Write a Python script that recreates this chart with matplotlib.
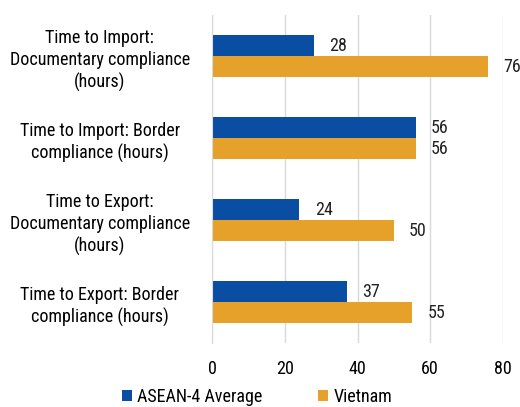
import numpy as np
import matplotlib
matplotlib.use("Agg")
from matplotlib import pyplot as plt

plt.rcParams['font.family'] = ['Roboto Condensed', 'DejaVu Sans']

# data
categories = ["Time to Import:\nDocumentary compliance\n(hours)",
              "Time to Import: Border\ncompliance (hours)",
              "Time to Export:\nDocumentary compliance\n(hours)",
              "Time to Export: Border\ncompliance (hours)"]
asean = [28, 56, 24, 37]
vietnam = [76, 56, 50, 55]
series_names = ["ASEAN-4 Average", "Vietnam"]
blue = "#0a4ea3"
orange = "#e5a12a"

fig = plt.figure(figsize=(5.2, 4.07), dpi=100)
ax = fig.add_axes([0.408, 0.157, 0.559, 0.806])

y = np.arange(len(categories))
h = 0.255
b1 = ax.barh(y - h / 2, asean, height=h, color=blue, label=series_names[0])
b2 = ax.barh(y + h / 2, vietnam, height=h, color=orange, label=series_names[1])

# value labels to the right of each bar
for bars in (b1, b2):
    for b in bars:
        ax.annotate(str(int(b.get_width())), (b.get_width(), b.get_y() + b.get_height() / 2),
                    xytext=(11, 0), textcoords="offset points", ha="left", va="center",
                    fontsize=13, color="#222222")

ax.set_xlim(0, 80)
ax.set_ylim(3.5, -0.5)
ax.set_xticks([0, 20, 40, 60, 80])
ax.set_yticks(y)
ax.set_yticklabels(categories, fontsize=13, ha="center", linespacing=1.3)
ax.tick_params(axis="y", length=0, pad=81)
ax.tick_params(axis="x", length=0, labelsize=13, pad=12)
ax.grid(axis="x", color="#d9d9d9", linewidth=1)
ax.set_axisbelow(True)
for s in ["top", "right", "bottom"]:
    ax.spines[s].set_visible(False)
ax.spines["left"].set_color("#d9d9d9")

fig.legend(handles=[b1, b2], labels=series_names, loc="lower left",
           bbox_to_anchor=(0.2346, 0.002), ncol=2, frameon=False, fontsize=13,
           borderpad=0, borderaxespad=0,
           handlelength=0.55, handleheight=0.55, handletextpad=0.3, columnspacing=3.05)

fig.savefig("out.png", dpi=100)
